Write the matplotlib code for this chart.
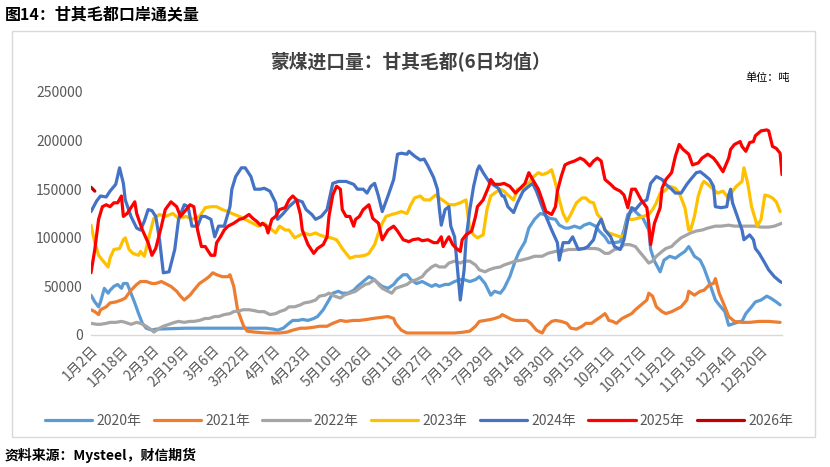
import matplotlib
matplotlib.use("Agg")
import matplotlib.pyplot as plt
from matplotlib.patches import Rectangle

plt.rcParams['font.family'] = ['Noto Sans CJK SC', 'DejaVu Sans']

tick_labels = ["1月2日", "1月18日", "2月3日", "2月19日", "3月6日", "3月22日", "4月7日", "4月23日",
               "5月10日", "5月26日", "6月11日", "6月27日", "7月13日", "7月29日", "8月14日", "8月30日",
               "9月15日", "10月1日", "10月17日", "11月2日", "11月18日", "12月4日", "12月20日"]
n_days = 363

x2020 = [0, 2, 4, 5, 7, 9, 10, 12, 14, 16, 17, 19, 21, 23, 25, 27, 29, 32, 34, 50, 70, 92, 96, 98, 101, 104, 106, 109, 111, 114, 117, 119, 122, 125, 127, 130, 132, 135, 138, 140, 143, 146, 148, 151, 153, 156, 159, 161, 164, 166, 168, 171, 174, 176, 179, 181, 183, 186, 188, 191, 194, 196, 199, 202, 204, 207, 210, 212, 215, 217, 220, 223, 225, 228, 230, 233, 236, 238, 241, 244, 246, 249, 251, 254, 257, 259, 262, 265, 267, 270, 272, 275, 278, 280, 282, 285, 287, 290, 293, 294, 296, 299, 301, 304, 307, 309, 312, 314, 315, 317, 320, 322, 325, 328, 330, 333, 335, 338, 341, 342, 344, 347, 349, 352, 355, 357, 360, 362]
y2020 = [41, 34, 29, 34, 48, 43, 46, 50, 52, 48, 53, 53, 43, 33, 22, 12, 7, 5, 6, 7, 7, 7, 6, 5, 7, 12, 15, 15, 16, 15, 17, 19, 26, 36, 43, 45, 43, 43, 46, 50, 55, 60, 58, 53, 50, 48, 52, 57, 62, 62, 57, 53, 55, 53, 50, 52, 50, 52, 52, 55, 57, 57, 55, 57, 60, 53, 41, 45, 43, 48, 60, 77, 86, 96, 110, 119, 125, 124, 120, 119, 113, 110, 110, 112, 110, 113, 115, 112, 107, 101, 95, 95, 96, 108, 124, 129, 125, 120, 108, 88, 76, 65, 77, 81, 79, 82, 86, 91, 88, 81, 77, 69, 53, 36, 31, 24, 10, 12, 14, 14, 22, 29, 34, 36, 40, 38, 34, 31]

x2021 = [0, 2, 4, 5, 8, 10, 13, 16, 18, 21, 24, 26, 29, 32, 34, 37, 39, 42, 45, 47, 49, 52, 54, 57, 60, 62, 64, 66, 69, 72, 73, 75, 77, 80, 82, 86, 92, 99, 103, 106, 110, 113, 117, 120, 124, 127, 131, 134, 138, 141, 145, 148, 152, 156, 159, 160, 163, 166, 169, 183, 191, 196, 199, 202, 204, 207, 210, 212, 215, 216, 218, 221, 223, 226, 229, 231, 234, 237, 239, 242, 244, 247, 250, 252, 255, 258, 260, 263, 265, 268, 270, 271, 272, 274, 276, 279, 281, 284, 286, 289, 292, 293, 295, 297, 300, 302, 305, 307, 310, 313, 314, 317, 320, 322, 325, 327, 328, 330, 333, 335, 338, 342, 346, 351, 356, 362]
y2021 = [26, 24, 21, 26, 29, 33, 34, 36, 38, 46, 52, 55, 55, 53, 53, 55, 53, 50, 45, 40, 36, 41, 46, 53, 57, 60, 64, 62, 60, 60, 62, 50, 26, 10, 4, 3, 2, 2, 3, 5, 7, 7, 8, 9, 9, 12, 15, 14, 15, 15, 16, 17, 18, 19, 17, 12, 5, 2, 2, 2, 2, 3, 4, 9, 14, 15, 16, 17, 19, 21, 19, 16, 15, 15, 15, 12, 5, 2, 9, 14, 15, 14, 12, 7, 6, 9, 12, 12, 15, 19, 22, 19, 15, 14, 12, 17, 19, 22, 26, 31, 36, 43, 40, 29, 24, 22, 24, 26, 29, 36, 45, 41, 45, 46, 52, 53, 58, 43, 29, 19, 14, 13, 13, 14, 14, 13]

x2022 = [0, 3, 5, 8, 10, 13, 16, 18, 21, 24, 26, 29, 32, 33, 36, 38, 41, 44, 46, 49, 52, 54, 57, 60, 62, 65, 67, 70, 73, 75, 78, 80, 83, 86, 88, 91, 94, 97, 99, 102, 104, 107, 110, 112, 115, 118, 120, 123, 125, 128, 131, 133, 136, 139, 141, 144, 146, 149, 151, 153, 156, 158, 160, 163, 166, 168, 171, 174, 176, 179, 181, 183, 186, 188, 191, 194, 196, 199, 202, 204, 207, 209, 212, 215, 217, 220, 223, 226, 230, 233, 237, 240, 244, 247, 251, 254, 258, 261, 265, 267, 270, 272, 275, 278, 280, 283, 286, 288, 291, 293, 295, 297, 300, 302, 305, 307, 310, 313, 315, 318, 321, 324, 328, 331, 335, 338, 342, 345, 349, 352, 356, 359, 363]
y2022 = [12, 11, 11, 12, 13, 13, 14, 13, 11, 13, 12, 9, 5, 3, 7, 9, 11, 13, 14, 13, 14, 14, 15, 17, 17, 19, 19, 21, 22, 24, 25, 26, 26, 25, 24, 24, 21, 22, 24, 26, 29, 29, 31, 33, 34, 36, 40, 41, 43, 40, 38, 41, 43, 45, 48, 52, 53, 57, 52, 48, 45, 43, 48, 50, 52, 55, 57, 60, 65, 70, 72, 70, 70, 74, 76, 74, 76, 76, 72, 67, 65, 67, 69, 70, 72, 74, 76, 77, 79, 81, 81, 84, 86, 86, 88, 88, 89, 89, 89, 88, 84, 84, 88, 89, 93, 93, 91, 86, 79, 74, 76, 81, 86, 89, 91, 95, 100, 103, 105, 107, 108, 110, 112, 112, 113, 112, 112, 112, 112, 111, 111, 112, 115]

x2023 = [0, 2, 4, 6, 9, 10, 12, 15, 17, 18, 20, 22, 25, 26, 28, 31, 33, 36, 39, 43, 46, 50, 53, 57, 60, 63, 66, 69, 72, 74, 78, 81, 85, 88, 91, 94, 97, 99, 102, 104, 107, 110, 112, 115, 118, 120, 123, 126, 129, 132, 134, 136, 139, 141, 144, 146, 149, 151, 153, 155, 158, 160, 163, 166, 168, 170, 173, 175, 178, 181, 183, 186, 188, 191, 194, 197, 199, 201, 203, 206, 208, 210, 212, 215, 217, 219, 222, 224, 227, 230, 232, 235, 237, 240, 242, 244, 246, 248, 250, 252, 255, 258, 260, 262, 264, 266, 268, 270, 272, 275, 278, 280, 282, 285, 287, 290, 293, 295, 297, 299, 301, 304, 307, 309, 312, 314, 315, 317, 319, 321, 322, 324, 327, 329, 332, 334, 335, 337, 339, 342, 343, 345, 347, 349, 350, 352, 354, 356, 358, 360, 362]
y2023 = [113, 95, 82, 77, 70, 79, 88, 89, 98, 100, 88, 84, 82, 86, 81, 105, 120, 124, 122, 125, 120, 122, 119, 122, 131, 132, 132, 129, 127, 125, 122, 119, 115, 112, 115, 110, 105, 112, 108, 108, 100, 103, 105, 103, 105, 103, 101, 100, 98, 89, 84, 79, 81, 81, 82, 84, 93, 105, 115, 122, 124, 125, 127, 125, 134, 141, 143, 139, 139, 144, 141, 137, 134, 134, 136, 139, 108, 103, 100, 103, 129, 143, 146, 150, 148, 144, 139, 150, 151, 156, 162, 167, 165, 167, 170, 156, 139, 125, 117, 124, 136, 141, 141, 137, 136, 124, 120, 108, 105, 103, 101, 103, 119, 119, 120, 122, 124, 129, 136, 146, 148, 153, 151, 146, 131, 108, 108, 122, 143, 155, 158, 155, 150, 146, 148, 143, 139, 148, 153, 158, 172, 156, 132, 119, 112, 119, 144, 143, 141, 137, 127]

x2024 = [0, 3, 5, 8, 10, 13, 15, 17, 18, 21, 24, 26, 28, 30, 32, 34, 36, 38, 41, 44, 46, 49, 51, 53, 56, 58, 60, 63, 65, 67, 70, 73, 74, 76, 79, 81, 84, 86, 89, 91, 94, 97, 98, 101, 104, 108, 111, 113, 116, 118, 121, 124, 127, 130, 134, 138, 140, 143, 145, 147, 149, 151, 153, 156, 159, 161, 163, 166, 167, 170, 173, 175, 177, 180, 182, 183, 184, 186, 188, 189, 191, 194, 196, 197, 199, 201, 203, 204, 206, 209, 211, 214, 216, 217, 219, 222, 224, 227, 230, 232, 234, 237, 239, 242, 245, 246, 248, 251, 253, 256, 259, 261, 264, 266, 268, 270, 273, 275, 278, 280, 282, 284, 286, 289, 292, 294, 297, 300, 302, 305, 307, 310, 313, 315, 318, 320, 322, 325, 327, 328, 331, 334, 335, 336, 337, 339, 342, 343, 346, 348, 349, 351, 354, 356, 359, 362, 363]
y2024 = [127, 138, 143, 142, 148, 155, 172, 156, 139, 122, 110, 108, 117, 129, 128, 122, 98, 64, 65, 88, 119, 134, 132, 112, 112, 122, 122, 119, 101, 112, 112, 132, 150, 163, 172, 172, 163, 150, 150, 151, 148, 136, 119, 125, 132, 139, 137, 129, 124, 119, 122, 129, 156, 158, 158, 155, 150, 150, 146, 153, 156, 143, 127, 143, 160, 186, 187, 186, 189, 184, 180, 181, 174, 162, 150, 130, 113, 129, 132, 112, 101, 36, 67, 98, 129, 153, 170, 174, 167, 158, 155, 151, 143, 143, 132, 126, 136, 148, 153, 156, 148, 132, 122, 108, 95, 77, 95, 95, 101, 88, 89, 91, 98, 112, 119, 108, 101, 91, 88, 98, 119, 131, 129, 136, 139, 156, 163, 160, 155, 150, 146, 146, 155, 160, 167, 168, 165, 160, 153, 132, 131, 132, 144, 150, 136, 125, 108, 98, 103, 98, 89, 84, 74, 67, 60, 55, 54]

x2025 = [0, 2, 4, 6, 8, 10, 12, 14, 16, 17, 19, 21, 23, 24, 27, 30, 32, 34, 37, 39, 42, 45, 47, 50, 52, 54, 56, 58, 60, 63, 65, 66, 68, 70, 72, 73, 75, 78, 80, 83, 85, 87, 89, 90, 92, 93, 95, 97, 99, 102, 104, 106, 108, 110, 111, 114, 117, 119, 122, 124, 125, 127, 129, 131, 132, 134, 136, 138, 139, 141, 143, 146, 148, 151, 153, 156, 159, 161, 164, 167, 169, 172, 174, 177, 180, 182, 184, 185, 187, 188, 190, 192, 194, 195, 197, 200, 202, 203, 206, 209, 210, 212, 215, 217, 220, 223, 225, 228, 230, 232, 235, 237, 239, 242, 244, 245, 247, 249, 251, 254, 257, 259, 262, 264, 266, 268, 270, 273, 275, 278, 280, 282, 284, 286, 289, 292, 293, 294, 296, 299, 300, 302, 305, 307, 309, 311, 314, 316, 319, 321, 324, 327, 329, 332, 335, 336, 338, 341, 342, 344, 346, 348, 349, 352, 355, 356, 358, 360, 362, 363]
y2025 = [64, 88, 119, 132, 134, 132, 136, 136, 143, 122, 125, 131, 137, 125, 108, 95, 82, 89, 112, 129, 137, 132, 122, 129, 134, 132, 108, 91, 91, 82, 82, 95, 101, 108, 112, 113, 115, 119, 120, 124, 120, 117, 113, 115, 112, 105, 119, 122, 129, 131, 139, 143, 139, 124, 108, 93, 84, 89, 93, 101, 122, 144, 153, 150, 129, 122, 122, 112, 119, 122, 129, 134, 120, 115, 98, 108, 112, 107, 98, 96, 98, 99, 97, 98, 95, 95, 101, 91, 98, 101, 93, 89, 86, 98, 103, 107, 122, 132, 139, 153, 160, 155, 155, 156, 153, 146, 150, 156, 167, 160, 150, 139, 127, 124, 132, 148, 163, 175, 177, 179, 182, 180, 174, 179, 182, 179, 160, 155, 151, 148, 144, 131, 150, 150, 139, 131, 115, 93, 115, 131, 151, 160, 167, 184, 196, 191, 186, 175, 177, 182, 186, 182, 177, 168, 182, 191, 196, 199, 194, 189, 198, 199, 205, 210, 211, 210, 194, 192, 187, 165]

x2026 = [0, 2]
y2026 = [152, 148]

years = ["2020年", "2021年", "2022年", "2023年", "2024年", "2025年", "2026年"]
colors = ["#5B9BD5", "#ED7D31", "#A5A5A5", "#FFC000", "#4472C4", "#FF0000", "#C00000"]
series = [(x2020, y2020), (x2021, y2021), (x2022, y2022), (x2023, y2023),
          (x2024, y2024), (x2025, y2025), (x2026, y2026)]

W, H = 830, 467
fig = plt.figure(figsize=(W / 100, H / 100), dpi=100)
ax = fig.add_axes([91 / W, 1 - 335 / H, (782 - 91) / W, (335 - 92) / H])

handles = []
for (xs, ys), name, c in zip(series, years, colors):
    h, = ax.plot(xs, [v * 1000 for v in ys], color=c, lw=2.3, label=name,
                 solid_joinstyle='round', solid_capstyle='round')
    handles.append(h)

ax.set_xlim(0, n_days)
ax.set_ylim(0, 250000)
ax.set_yticks(range(0, 250001, 50000))
ax.set_yticklabels([str(v) for v in range(0, 250001, 50000)], fontsize=10, color="#595959")
ax.set_xticks([16 * i for i in range(len(tick_labels))])
ax.set_xticklabels(tick_labels, rotation=45, ha='right', va='top', fontsize=10,
                   color="#595959", rotation_mode='anchor')
ax.tick_params(axis='both', length=0, pad=6)
for s in ['top', 'right', 'left']:
    ax.spines[s].set_visible(False)
ax.spines['bottom'].set_color("#D9D9D9")
ax.spines['bottom'].set_linewidth(1.0)

fig.legend(handles=handles, labels=years, loc='center', bbox_to_anchor=(0.505, 1 - 421 / H),
           ncol=7, frameon=False, fontsize=10, handlelength=3.4, columnspacing=0.9,
           handletextpad=0.3, labelcolor="#595959")

fig.patches.append(Rectangle((12 / W, 1 - 437 / H), (815 - 12) / W, (437 - 31) / H,
                             transform=fig.transFigure, fill=False, edgecolor="#D9D9D9", lw=1))

fig.text(5 / W, 1 - 14 / H, "图14：甘其毛都口岸通关量", fontsize=11.5, fontweight='bold',
         va='center', ha='left', color="#000000")
fig.text(410 / W, 1 - 62 / H, "蒙煤进口量：甘其毛都(6日均值）", fontsize=13.5, fontweight='bold',
         va='center', ha='center', color="#404040")
fig.text(790 / W, 1 - 78 / H, "单位：吨", fontsize=8, va='center', ha='right', color="#000000")
fig.text(5 / W, 1 - 455 / H, "资料来源：Mysteel，财信期货", fontsize=10, va='center', ha='left',
         color="#000000", style='italic', fontweight='bold')

fig.savefig("out.png", dpi=100)
